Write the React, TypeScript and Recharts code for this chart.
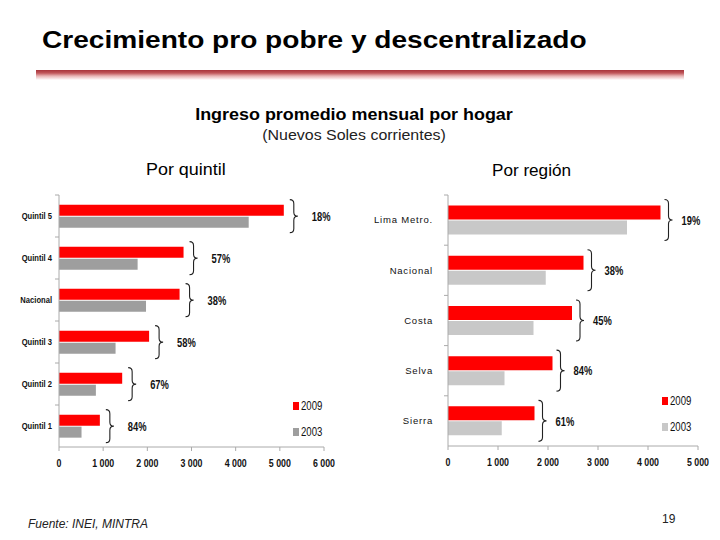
import React from 'react';
import { BarChart, Bar, XAxis, YAxis, LabelList } from 'recharts';

// Por quintil
const quintilCats = ['Quintil 5', 'Quintil 4', 'Nacional', 'Quintil 3', 'Quintil 2', 'Quintil 1'];
const quintil2009 = [5090, 2820, 2730, 2040, 1430, 925];
const quintil2003 = [4295, 1780, 1970, 1280, 835, 510];
const quintilGrowth = ['18%', '57%', '38%', '58%', '67%', '84%'];
const quintilTicks = [0, 1000, 2000, 3000, 4000, 5000, 6000];

// Por región
const regionCats = ['Lima Metro.', 'Nacional', 'Costa', 'Selva', 'Sierra'];
const region2009 = [4250, 2710, 2480, 2090, 1730];
const region2003 = [3580, 1955, 1710, 1130, 1075];
const regionGrowth = ['19%', '38%', '45%', '84%', '61%'];
const regionTicks = [0, 1000, 2000, 3000, 4000, 5000];

const seriesNames = ['2009', '2003'];

const RED = '#ff0000';
const GREY_Q = '#9e9e9e';
const GREY_R = '#c8c8c8';
const SANS = '"Liberation Sans", Arial, sans-serif';

const fmt = (v: number) => (v === 0 ? '0' : `${Math.floor(v / 1000)} ${String(v % 1000).padStart(3, '0')}`);

const bracePath = (x0: number, y0: number, y1: number, w: number) => {
  const xm = x0 + w / 2;
  const ym = (y0 + y1) / 2;
  const r = 4;
  return `M${x0},${y0} Q${xm},${y0} ${xm},${y0 + r} L${xm},${ym - r} Q${xm},${ym} ${x0 + w},${ym} Q${xm},${ym} ${xm},${ym + r} L${xm},${y1 - r} Q${xm},${y1} ${x0},${y1}`;
};

const makeBrace = (labels: string[], gap: number, textOff: number, pad: number) => (props: any) => {
  const { x, y, width, height, index } = props;
  const x0 = x + width + gap;
  const y0 = y - pad;
  const y1 = y + height * 2 + 1 + pad;
  return (
    <g>
      <path d={bracePath(x0, y0, y1, 8)} fill="none" stroke="#222" strokeWidth={1.1} />
      <g transform={`translate(${x0 + textOff},${(y0 + y1) / 2})`}>
        <text transform="scale(0.72,1)" dy="0.36em" fontSize={13} fontWeight={700} fontFamily={SANS} fill="#111">
          {labels[index]}
        </text>
      </g>
    </g>
  );
};

// squeezed text to mimic the narrow face of the slide
const xTick = (props: any) => {
  const { x, y, payload } = props;
  return (
    <g transform={`translate(${x},${y})`}>
      <text transform="scale(0.8,1)" textAnchor="middle" dy="0.71em" fontSize={11} fontWeight={700} fontFamily={SANS} fill="#111">
        {fmt(payload.value)}
      </text>
    </g>
  );
};

const makeYTick = (band: number, size: number, weight: number, sx: number, spacing: number, lineX: number) => (props: any) => {
  const { x, y, payload } = props;
  return (
    <g>
      <line x1={lineX - 4} x2={lineX} y1={y - band / 2} y2={y - band / 2} stroke="#aaa" />
      <g transform={`translate(${x},${y})`}>
        <text transform={`scale(${sx},1)`} textAnchor="end" dy="0.35em" fontSize={size} fontWeight={weight}
          fontFamily={SANS} letterSpacing={spacing} fill="#111">
          {payload.value}
        </text>
      </g>
    </g>
  );
};

const LegendBox = ({ left, top, colors }: { left: number; top: number; colors: string[] }) => (
  <div style={{ position: 'absolute', left, top, fontFamily: SANS, fontSize: 12, color: '#111' }}>
    {seriesNames.map((n, i) => (
      <div key={n} style={{ display: 'flex', alignItems: 'center', height: 26 }}>
        <span style={{ display: 'inline-block', width: 6, height: 8, background: colors[i], marginRight: 2 }} />
        <span style={{ display: 'inline-block', transform: 'scaleX(0.8)', transformOrigin: 'left center' }}>{n}</span>
      </div>
    ))}
  </div>
);

const quintilData = quintilCats.map((c, i) => ({ cat: c, y2009: quintil2009[i], y2003: quintil2003[i] }));
const regionData = regionCats.map((c, i) => ({ cat: c, y2009: region2009[i], y2003: region2003[i] }));

export default function App() {
  return (
    <div style={{ position: 'absolute', left: 0, top: 0, width: 720, height: 540, background: '#fff', fontFamily: SANS }}>
      <div style={{ position: 'absolute', left: 42, top: 26, fontSize: 24, fontWeight: 700, color: '#000', whiteSpace: 'nowrap',
        transform: 'scaleX(1.17)', transformOrigin: 'left top' }}>
        Crecimiento pro pobre y descentralizado
      </div>
      <div
        style={{
          position: 'absolute', left: 36, top: 70, width: 648, height: 10,
          background: 'linear-gradient(to bottom, #a8343a 0%, #c0565a 30%, #e8b4b4 60%, #ffffff 100%)',
        }}
      />
      <div style={{ position: 'absolute', left: 0, width: 708, top: 106, textAlign: 'center', fontSize: 16, fontWeight: 700,
        transform: 'scaleX(1.12)', transformOrigin: '354px 0' }}>
        Ingreso promedio mensual por hogar
      </div>
      <div style={{ position: 'absolute', left: 0, width: 708, top: 127, textAlign: 'center', fontSize: 14, color: '#222',
        transform: 'scaleX(1.14)', transformOrigin: '354px 0' }}>
        (Nuevos Soles corrientes)
      </div>
      <div style={{ position: 'absolute', left: 146, top: 161, fontSize: 16, transform: 'scaleX(1.12)', transformOrigin: 'left top' }}>
        Por quintil
      </div>
      <div style={{ position: 'absolute', left: 492, top: 162, fontSize: 16, transform: 'scaleX(1.07)', transformOrigin: 'left top' }}>
        Por región
      </div>

      <div style={{ position: 'absolute', left: 0, top: 180 }}>
        <BarChart
          width={340}
          height={290}
          layout="vertical"
          data={quintilData}
          margin={{ top: 15, right: 16, bottom: 3, left: 0 }}
          barCategoryGap="23%"
          barGap={1}
        >
          <XAxis
            type="number"
            domain={[0, 6000]}
            ticks={quintilTicks}
            tick={xTick}
            axisLine={{ stroke: '#aaa' }}
            tickLine={{ stroke: '#aaa' }}
            tickSize={4}
            tickMargin={8}
            height={20}
          />
          <YAxis
            type="category"
            dataKey="cat"
            width={59}
            tick={makeYTick(42, 9.5, 700, 0.8, 0, 59)}
            axisLine={{ stroke: '#aaa' }}
            tickLine={false}
            tickMargin={1}
          />
          <Bar dataKey="y2009" name={seriesNames[0]} fill={RED} isAnimationActive={false}>
            <LabelList dataKey="y2009" content={makeBrace(quintilGrowth, 6, 22, 5)} />
          </Bar>
          <Bar dataKey="y2003" name={seriesNames[1]} fill={GREY_Q} isAnimationActive={false} />
        </BarChart>
      </div>
      <LegendBox left={293} top={393} colors={[RED, GREY_Q]} />

      <div style={{ position: 'absolute', left: 360, top: 180 }}>
        <BarChart
          width={360}
          height={290}
          layout="vertical"
          data={regionData}
          margin={{ top: 15, right: 22, bottom: 4, left: 0 }}
          barCategoryGap="21%"
          barGap={1}
        >
          <XAxis
            type="number"
            domain={[0, 5000]}
            ticks={regionTicks}
            tick={xTick}
            axisLine={{ stroke: '#aaa' }}
            tickLine={{ stroke: '#aaa' }}
            tickSize={4}
            tickMargin={8}
            height={20}
          />
          <YAxis
            type="category"
            dataKey="cat"
            width={88}
            tick={makeYTick(50.2, 9.5, 400, 1, 0.8, 88)}
            axisLine={{ stroke: '#aaa' }}
            tickLine={false}
            tickMargin={9}
          />
          <Bar dataKey="y2009" name={seriesNames[0]} fill={RED} isAnimationActive={false}>
            <LabelList dataKey="y2009" content={makeBrace(regionGrowth, 4, 17, 6)} />
          </Bar>
          <Bar dataKey="y2003" name={seriesNames[1]} fill={GREY_R} isAnimationActive={false} />
        </BarChart>
      </div>
      <LegendBox left={662} top={388} colors={[RED, GREY_R]} />

      <div style={{ position: 'absolute', left: 28, top: 517, fontSize: 12, fontStyle: 'italic', color: '#222' }}>
        Fuente: INEI, MINTRA
      </div>
      <div style={{ position: 'absolute', left: 662, top: 512, fontSize: 12, color: '#222' }}>19</div>
    </div>
  );
}
